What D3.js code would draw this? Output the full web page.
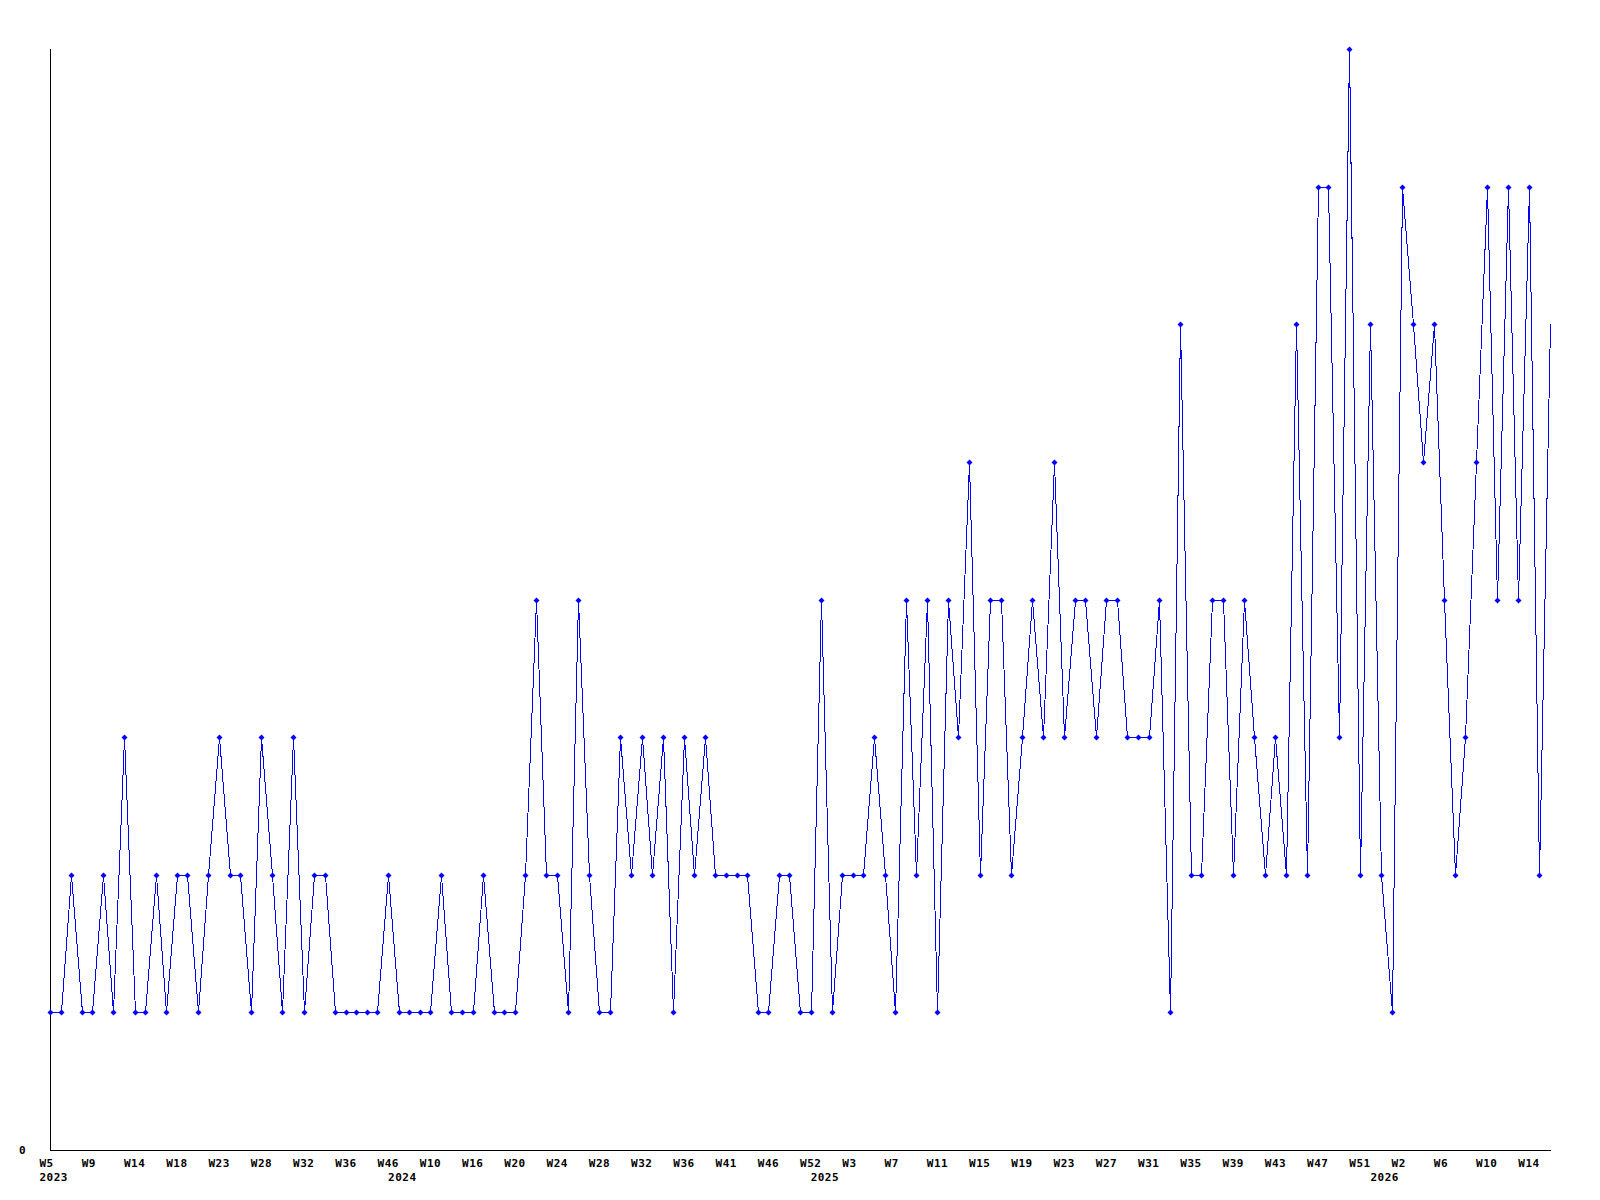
<!DOCTYPE html>
<html>
<head>
<meta charset="utf-8">
<script src="https://cdn.jsdelivr.net/npm/d3@7"></script>
<style>
  body { margin: 0; background: #fff; }
  .lbl { font-family: 'DejaVu Sans Mono', monospace; font-weight: bold; font-size: 11px; letter-spacing: 0.5px; fill: #000; }
</style>
</head>
<body>
<svg id="chart" width="1600" height="1200"></svg>
<script>
// weekly counts, one per point
var values = [
  1, 1, 2, 1, 1, 2, 1, 3, 1, 1, 2, 1, 2, 2, 1, 2, 3, 2, 2, 1, 3, 2, 1, 3, 1, 2, 2, 1, 1, 1, 1, 1, 2, 1, 1, 1,
  1, 2, 1, 1, 1, 2, 1, 1, 1, 2, 4, 2, 2, 1, 4, 2, 1, 1, 3, 2, 3, 2, 3, 1, 3, 2, 3, 2, 2, 2, 2, 1, 1, 2, 2, 1, 1, 4,
  1, 2, 2, 2, 3, 2, 1, 4, 2, 4, 1, 4, 3, 5, 2, 4, 4, 2, 3, 4, 3, 5, 3, 4, 4, 3, 4, 4, 3, 3, 3, 4, 1,
  6, 2, 2, 4, 4, 2, 4, 3, 2, 3, 2, 6, 2, 7, 7, 3, 8, 2, 6, 2, 1, 7, 6, 5, 6, 4, 2, 3, 5, 7, 4, 7, 4, 7, 2, 6
];

// a week label on every 4th point
var weekLabels = ['W5', 'W9', 'W14', 'W18', 'W23', 'W28', 'W32', 'W36', 'W46', 'W10', 'W16', 'W20',
  'W24', 'W28', 'W32', 'W36', 'W41', 'W46', 'W52', 'W3', 'W7', 'W11', 'W15', 'W19',
  'W23', 'W27', 'W31', 'W35', 'W39', 'W43', 'W47', 'W51', 'W2', 'W6', 'W10', 'W14'];
var weekStep = 4;

// first point of each year
var yearPoints = [0, 33, 73, 126];
var yearLabels = ['2023', '2024', '2025', '2026'];

var svg = d3.select('#chart'),
  plotL = 50, plotR = 1550, plotT = 49, plotB = 1150;

var x = d3.scaleLinear().domain([0, values.length - 1]).range([plotL, plotR]),
  y = d3.scaleLinear().domain([0, d3.max(values)]).range([plotB, plotT]);

// axes
svg.append('line')
  .attr('x1', plotL + 0.5).attr('x2', plotL + 0.5)
  .attr('y1', plotT).attr('y2', plotB + 0.5)
  .attr('stroke', '#000').attr('shape-rendering', 'crispEdges');
svg.append('line')
  .attr('x1', plotL).attr('x2', plotR + 1)
  .attr('y1', plotB + 0.5).attr('y2', plotB + 0.5)
  .attr('stroke', '#000').attr('shape-rendering', 'crispEdges');

svg.append('text')
  .attr('class', 'lbl')
  .attr('x', 19)
  .attr('y', y(0) + 4)
  .text('0');

svg.selectAll('text.week')
  .data(weekLabels)
  .enter()
  .append('text')
  .attr('class', 'lbl week')
  .attr('x', function(d, i) { return x(i * weekStep) - 10.5; })
  .attr('y', plotB + 17)
  .text(function(d) { return d; });

svg.selectAll('text.year')
  .data(yearLabels)
  .enter()
  .append('text')
  .attr('class', 'lbl year')
  .attr('x', function(d, i) { return x(yearPoints[i]) - 10.5; })
  .attr('y', plotB + 31)
  .text(function(d) { return d; });

// the line
var line = d3.line()
  .x(function(d, i) { return Math.round(x(i)) + 0.5; })
  .y(function(d) { return Math.round(y(d)) + 0.5; });

svg.append('path')
  .datum(values)
  .attr('d', line)
  .attr('fill', 'none')
  .attr('stroke', '#0000ff')
  .attr('stroke-width', 1)
  .attr('shape-rendering', 'crispEdges');

// diamond markers (none drawn on the last point, which sits on the plot edge)
svg.selectAll('path.pt')
  .data(values.slice(0, -1))
  .enter()
  .append('path')
  .attr('class', 'pt')
  .attr('d', function(d, i) {
    var cx = Math.round(x(i)) + 0.5, cy = Math.round(y(d)) + 0.5, r = 3;
    return 'M' + (cx - r) + ',' + cy + 'L' + cx + ',' + (cy - r) + 'L' + (cx + r) + ',' + cy + 'L' + cx + ',' + (cy + r) + 'Z';
  })
  .attr('fill', '#0000ff');
</script>
</body>
</html>
